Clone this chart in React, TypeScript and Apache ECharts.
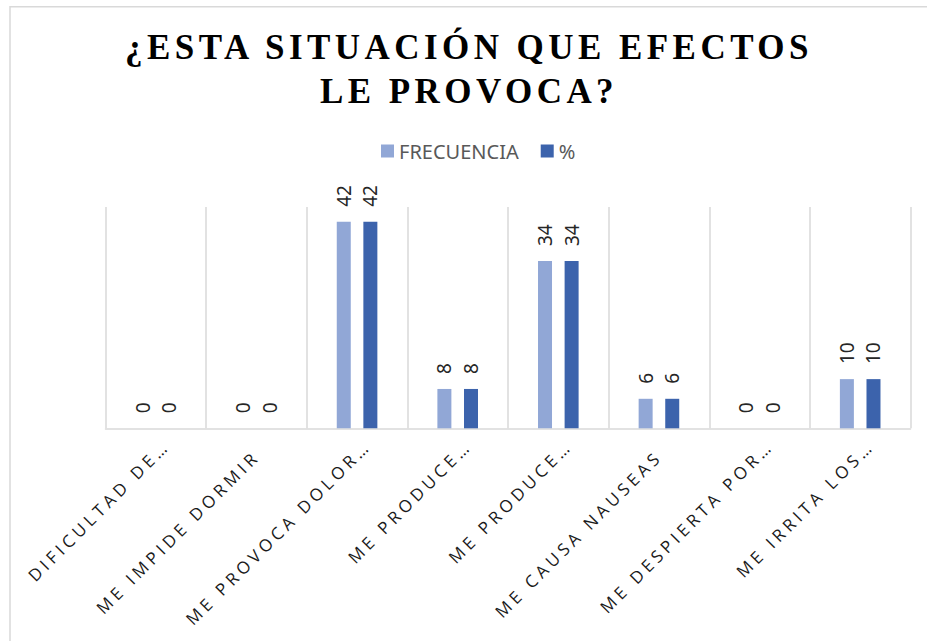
import React, { useEffect, useRef } from "react";
import * as echarts from "echarts";

const categories = [
  "DIFICULTAD DE…",
  "ME IMPIDE DORMIR",
  "ME PROVOCA DOLOR…",
  "ME PRODUCE…",
  "ME PRODUCE…",
  "ME CAUSA NAUSEAS",
  "ME DESPIERTA POR…",
  "ME IRRITA LOS…",
];
const frecuencia = [0, 0, 42, 8, 34, 6, 0, 10];
const porcentaje = [0, 0, 42, 8, 34, 6, 0, 10];
const seriesNames = ["FRECUENCIA", "%"];
const titleText = "¿ESTA SITUACIÓN QUE EFECTOS\nLE PROVOCA?";

const css = `
#chart-root svg text[style*="Liberation Serif"] { letter-spacing: 4.45px; }
#chart-root svg text[style*="Open Sans"] { letter-spacing: 4.1px; }
`;

export default function App() {
  const ref = useRef<HTMLDivElement>(null);
  useEffect(() => {
    if (!ref.current) return;
    const chart = echarts.init(ref.current, undefined, { renderer: "svg" });
    const labelStyle = {
      show: true,
      position: "top",
      rotate: 90,
      align: "left",
      verticalAlign: "middle",
      distance: 15,
      fontFamily: "Noto Sans",
      fontSize: 19,
      color: "#262626",
    };
    const axisData = categories.map((c) =>
      c.endsWith("…") ? { value: c, textStyle: { padding: [0, -15, 0, 0] } } : c
    );
    chart.setOption({
      animation: false,
      backgroundColor: "#ffffff",
      graphic: [
        {
          type: "rect",
          shape: { x: 10, y: 6.75, width: 1200, height: 1200 },
          style: { fill: "none", stroke: "#d9d9d9", lineWidth: 1.5 },
          silent: true,
        },
        {
          type: "text",
          x: 469,
          y: 25,
          style: {
            text: titleText,
            fontFamily: "Liberation Serif",
            fontSize: 35,
            fontWeight: "bold",
            fill: "#000000",
            align: "center",
            textAlign: "center",
            verticalAlign: "top",
            textVerticalAlign: "top",
            lineHeight: 44,
          },
        },
      ],
      legend: {
        left: 381,
        top: 141,
        padding: 0,
        itemWidth: 13,
        itemHeight: 13,
        itemGap: 22,
        icon: "rect",
        textStyle: { fontFamily: "Noto Sans", fontSize: 20, color: "#595959" },
        data: seriesNames,
      },
      grid: { left: 105.5, right: 16.5, top: 207, height: 221.3 },
      xAxis: {
        type: "category",
        data: axisData,
        axisLine: { lineStyle: { color: "#d9d9d9", width: 1.5 } },
        axisTick: { show: false },
        splitLine: { show: true, lineStyle: { color: "#d9d9d9", width: 1.5 } },
        axisLabel: {
          interval: 0,
          rotate: 45,
          margin: 25,
          fontFamily: "Open Sans",
          fontSize: 17,
          color: "#1a1a1a",
        },
      },
      yAxis: {
        type: "value",
        min: 0,
        max: 45,
        show: false,
        splitLine: { show: false },
      },
      series: [
        {
          name: seriesNames[0],
          type: "bar",
          data: frecuencia,
          barWidth: 14,
          barGap: "90%",
          itemStyle: { color: "#91a7d6" },
          label: labelStyle,
        },
        {
          name: seriesNames[1],
          type: "bar",
          data: porcentaje,
          barWidth: 14,
          barGap: "90%",
          itemStyle: { color: "#3c63ac" },
          label: labelStyle,
        },
      ],
    });
    return () => chart.dispose();
  }, []);
  return (
    <>
      <style>{css}</style>
      <div
        id="chart-root"
        ref={ref}
        style={{ position: "fixed", left: 0, top: 0, width: 927, height: 641 }}
      />
    </>
  );
}
